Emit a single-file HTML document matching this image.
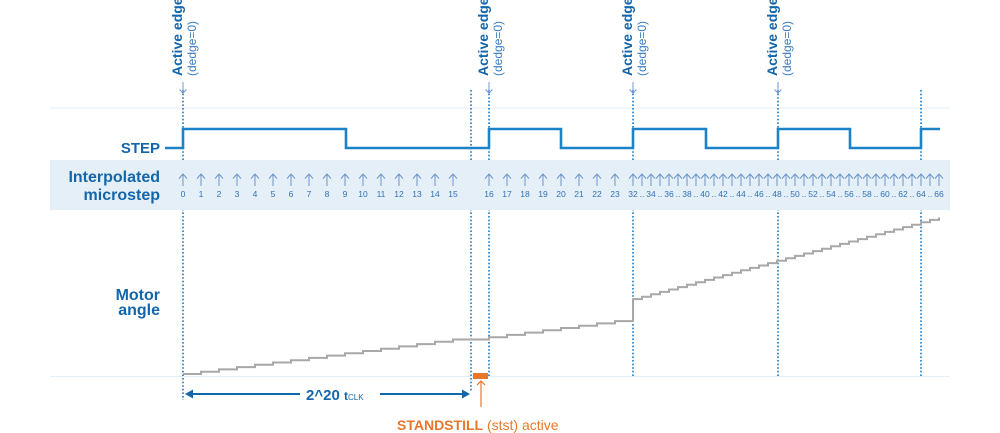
<!DOCTYPE html>
<html><head><meta charset="utf-8"><style>
html,body{margin:0;padding:0;background:#fff;width:1000px;height:433px;overflow:hidden}
svg{display:block;font-family:"Liberation Sans","DejaVu Sans",sans-serif}
</style></head><body>
<svg id="s" width="1000" height="433" viewBox="0 0 1000 433" xmlns="http://www.w3.org/2000/svg">
<line x1="50" y1="108" x2="950" y2="108" stroke="#e3edf5" stroke-width="1"/>
<line x1="50" y1="376.5" x2="950" y2="376.5" stroke="#e3edf5" stroke-width="1"/>
<g id="vl" stroke="#1b75bc" stroke-width="1.6" stroke-dasharray="1.6 2"></g>
<rect x="50" y="160" width="900" height="50" fill="#e5eff7"/>
<g id="ticks"></g>
<path d="M165 148 H183 V129 H346 V148 H489 V129 H561 V148 H633 V129 H706 V148 H778 V129 H850 V148 H921 V129 H940" fill="none" stroke="#1b84c8" stroke-width="2.6"/>
<path id="motor" fill="none" stroke="#a8a8a8" stroke-width="2"/>
<g font-weight="bold" fill="#1466aa" font-size="16" text-anchor="end">
<text x="160" y="153" font-size="15">STEP</text>
<text x="160" y="182">Interpolated</text>
<text x="160" y="200">microstep</text>
<text x="160" y="300">Motor</text>
<text x="160" y="315">angle</text>
</g>
<g id="top"></g>
<line x1="192" y1="394" x2="300" y2="394" stroke="#1466aa" stroke-width="2"/>
<line x1="380" y1="394" x2="462" y2="394" stroke="#1466aa" stroke-width="2"/>
<polygon points="185,394 193,389.5 193,398.5" fill="#1466aa"/>
<polygon points="470,394 462,389.5 462,398.5" fill="#1466aa"/>
<text x="306" y="400" font-size="15" font-weight="bold" fill="#1466aa">2^20 <tspan font-size="12">t</tspan><tspan font-size="8" font-weight="normal">CLK</tspan></text>
<rect x="473" y="373" width="15" height="6" fill="#e8772a"/>
<line x1="481" y1="381" x2="481" y2="407" stroke="#e8772a" stroke-width="1.2"/>
<path d="M477 385 L481 381 L485 385" fill="none" stroke="#e8772a" stroke-width="1.2"/>
<text x="397" y="430" font-size="14" fill="#e8772a"><tspan font-weight="bold">STANDSTILL</tspan> (stst) active</text>
</svg>
<script>
var NS="http://www.w3.org/2000/svg";
function el(p,t,a,txt){var e=document.createElementNS(NS,t);for(var k in a)e.setAttribute(k,a[k]);if(txt!==undefined)e.textContent=txt;document.getElementById(p).appendChild(e);return e;}
var lines=[[183,90,400],[471,90,392],[489,90,376],[633,90,376],[778,90,376],[921,90,376]];
lines.forEach(function(l){el("vl","line",{x1:l[0],y1:l[1],x2:l[0],y2:l[2]});});
[183,489,633,778].forEach(function(x){
 el("top","text",{transform:"translate("+(x-1)+",76) rotate(-90)","font-size":"14","font-weight":"bold",fill:"#1466aa"},"Active edge");
 el("top","text",{transform:"translate("+(x+13)+",76) rotate(-90)","font-size":"12",fill:"#3b7cc0"},"(dedge=0)");
 el("top","path",{d:"M"+x+" 82 V93 M"+(x-3.5)+" 89.5 L"+x+" 93 L"+(x+3.5)+" 89.5",fill:"none",stroke:"#6f96cc","stroke-width":"1"});
});
function arrow(x){el("ticks","path",{d:"M"+x+" 186 V174 M"+(x-4)+" 178.5 L"+x+" 174 L"+(x+4)+" 178.5",fill:"none",stroke:"#6a94c8","stroke-width":"1"});}
function lab(x,t){el("ticks","text",{x:x,y:197,"font-size":"8.5","text-anchor":"middle",fill:"#2e72b8"},t);}
for(var i=0;i<=15;i++){var x=183+i*18;arrow(x);lab(x,""+i);}
for(var i=16;i<=23;i++){var x=489+(i-16)*18;arrow(x);lab(x,""+i);}
for(var i=32;i<=66;i++){var x=633+(i-32)*9;arrow(x);if(i%2==0)lab(x,""+i);else lab(x,"..");}
var d="M183 374";for(var i=0;i<15;i++)d+=" h18 v-2.3";d+=" h36";for(var i=0;i<8;i++)d+=" v-2.3 h18";d+=" v-22";for(var i=0;i<34;i++)d+=" h9 v-2.4";
document.getElementById("motor").setAttribute("d",d);
</script>
</body></html>
